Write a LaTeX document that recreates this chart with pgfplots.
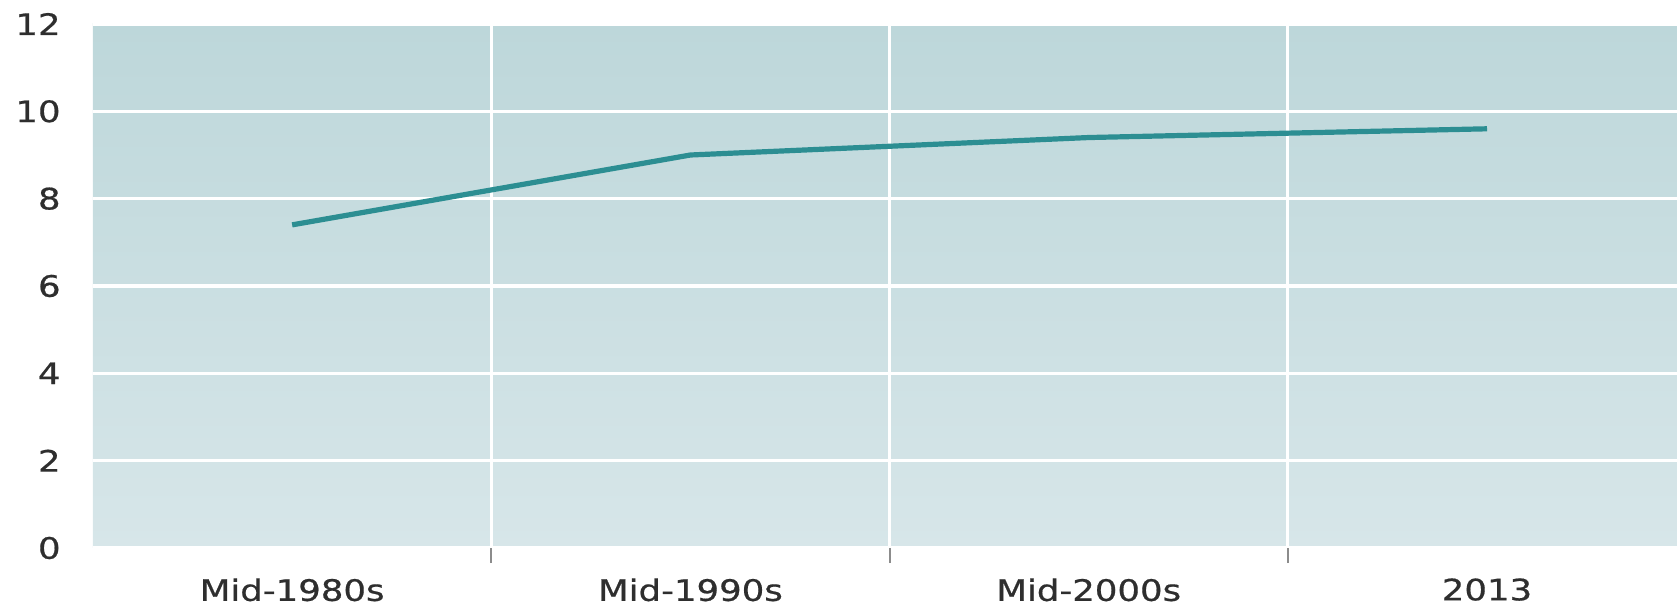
\documentclass[border=0pt]{standalone}
\usepackage{fontspec}
\setmainfont[FakeStretch=1.2,FakeBold=0.6]{DejaVu Sans}
\usepackage{pgfplots}
\pgfplotsset{compat=1.18}

\definecolor{linecol}{HTML}{2C8E92}
\definecolor{bgtop}{HTML}{BDD7DA}
\definecolor{bgbot}{HTML}{D7E6E9}
\definecolor{labcol}{HTML}{2E2E2E}

\begin{document}
\begin{tikzpicture}
\useasboundingbox (-46.5pt,-28.5pt) rectangle (792pt,274pt);
\begin{axis}[
  scale only axis,
  width=792pt, height=262pt,
  xmin=-0.5, xmax=3.477,
  ymin=0, ymax=12,
  axis line style={draw=none},
  axis background/.style={top color=bgtop, bottom color=bgbot},
  xtick={0,1,2,3},
  xticklabels={Mid-1980s,Mid-1990s,Mid-2000s,2013},
  minor xtick={0.5,1.5,2.5},
  xtick pos=lower,
  ytick={0,2,4,6,8,10,12},
  ymajorgrids, minor x grid style={white, line width=1.5pt},
  xminorgrids,
  major grid style={white, line width=1.6pt},
  major tick length=0pt,
  minor tick length=7.5pt,
  tick align=outside,
  minor tick style={color=gray!90, line width=1pt},
  tick label style={font=\fontsize{14.8}{17}\selectfont, text=labcol},
  yticklabel style={anchor=east, inner sep=0pt, xshift=-16pt},
  xticklabel style={anchor=north, inner sep=0pt, yshift=-15pt},
  /pgf/number format/assume math mode=true,
  clip=false,
]
\addplot[linecol, line width=2.6pt, line join=round] coordinates {
  (0,7.4) (1,9.0) (2,9.4) (3,9.6)
};
\end{axis}
\end{tikzpicture}
\end{document}
